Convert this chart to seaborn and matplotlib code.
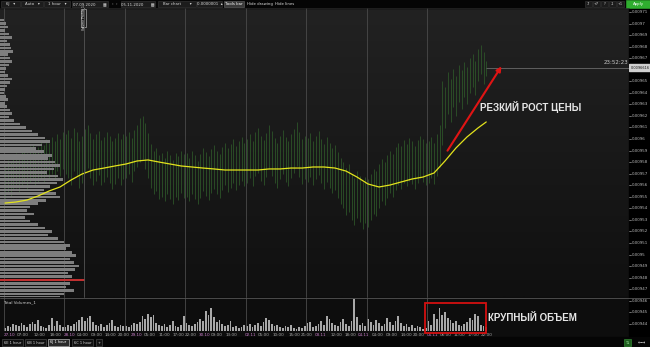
import numpy as np
import pandas as pd
import matplotlib
matplotlib.use("Agg")
import matplotlib.pyplot as plt
import seaborn as sns
from matplotlib.patches import Rectangle, FancyArrowPatch
from matplotlib.colors import LinearSegmentedColormap

# ---------------- data ----------------
bars_per_day = 22
day_names = ["27.10", "28.10", "29.10", "30.10", "02.11", "03.11", "04.11", "05.11"]

high = [
    0.009578, 0.009582, 0.009580, 0.009585, 0.009588, 0.009584, 0.009590, 0.009592, 0.009588, 0.009594, 0.009596,
    0.009590, 0.009593, 0.009598, 0.009595, 0.009600, 0.009597, 0.009602, 0.009598, 0.009604, 0.009600, 0.009606,
    0.009604, 0.009608, 0.009601, 0.009610, 0.009606, 0.009598, 0.009603, 0.009609, 0.009612, 0.009605, 0.009600,
    0.009604, 0.009607, 0.009599, 0.009602, 0.009606, 0.009603, 0.009598, 0.009601, 0.009605, 0.009600, 0.009604,
    0.009603, 0.009606, 0.009601, 0.009608, 0.009612, 0.009618, 0.009620, 0.009614, 0.009605, 0.009596, 0.009590,
    0.009592, 0.009586, 0.009588, 0.009584, 0.009590, 0.009586, 0.009582, 0.009588, 0.009585, 0.009590, 0.009587,
    0.009588, 0.009584, 0.009590, 0.009586, 0.009581, 0.009587, 0.009592, 0.009589, 0.009585, 0.009591, 0.009595,
    0.009590, 0.009587, 0.009593, 0.009597, 0.009592, 0.009596, 0.009600, 0.009594, 0.009598, 0.009602, 0.009597,
    0.009600, 0.009604, 0.009598, 0.009606, 0.009610, 0.009603, 0.009599, 0.009605, 0.009612, 0.009607, 0.009601,
    0.009597, 0.009603, 0.009608, 0.009602, 0.009598, 0.009604, 0.009609, 0.009615, 0.009606, 0.009600, 0.009603,
    0.009601, 0.009605, 0.009598, 0.009603, 0.009607, 0.009600, 0.009596, 0.009602, 0.009597, 0.009592, 0.009595,
    0.009589, 0.009584, 0.009580, 0.009575, 0.009578, 0.009570, 0.009566, 0.009572, 0.009568, 0.009563, 0.009567,
    0.009565, 0.009570, 0.009574, 0.009572, 0.009578, 0.009583, 0.009580, 0.009586, 0.009590, 0.009587, 0.009593,
    0.009597, 0.009594, 0.009599, 0.009596, 0.009601, 0.009598, 0.009594, 0.009599, 0.009603, 0.009600, 0.009597,
    0.009598, 0.009602, 0.009597, 0.009604, 0.009612, 0.009650, 0.009645, 0.009658, 0.009652, 0.009661, 0.009655,
    0.009664, 0.009660, 0.009667, 0.009662, 0.009670, 0.009674, 0.009668, 0.009678, 0.009681, 0.009675, 0.009668,
]
low = [
    0.009548, 0.009552, 0.009550, 0.009556, 0.009558, 0.009554, 0.009560, 0.009562, 0.009557, 0.009563, 0.009565,
    0.009560, 0.009562, 0.009566, 0.009563, 0.009568, 0.009565, 0.009570, 0.009566, 0.009572, 0.009568, 0.009574,
    0.009570, 0.009566, 0.009560, 0.009572, 0.009568, 0.009558, 0.009562, 0.009571, 0.009575, 0.009566, 0.009560,
    0.009564, 0.009569, 0.009560, 0.009563, 0.009567, 0.009562, 0.009557, 0.009561, 0.009566, 0.009560, 0.009565,
    0.009566, 0.009570, 0.009563, 0.009572, 0.009576, 0.009580, 0.009583, 0.009574, 0.009566, 0.009558, 0.009552,
    0.009555, 0.009548, 0.009550, 0.009546, 0.009552, 0.009548, 0.009544, 0.009550, 0.009547, 0.009553, 0.009549,
    0.009550, 0.009546, 0.009552, 0.009548, 0.009544, 0.009549, 0.009555, 0.009551, 0.009547, 0.009553, 0.009557,
    0.009552, 0.009549, 0.009556, 0.009560, 0.009554, 0.009558, 0.009562, 0.009556, 0.009560, 0.009564, 0.009559,
    0.009562, 0.009566, 0.009559, 0.009568, 0.009571, 0.009564, 0.009560, 0.009567, 0.009574, 0.009568, 0.009562,
    0.009558, 0.009565, 0.009570, 0.009563, 0.009559, 0.009566, 0.009571, 0.009577, 0.009567, 0.009561, 0.009565,
    0.009563, 0.009567, 0.009560, 0.009565, 0.009569, 0.009562, 0.009557, 0.009563, 0.009558, 0.009553, 0.009556,
    0.009549, 0.009544, 0.009540, 0.009534, 0.009537, 0.009530, 0.009526, 0.009532, 0.009528, 0.009522, 0.009527,
    0.009524, 0.009530, 0.009535, 0.009533, 0.009540, 0.009546, 0.009543, 0.009549, 0.009553, 0.009550, 0.009556,
    0.009560, 0.009557, 0.009562, 0.009559, 0.009564, 0.009561, 0.009557, 0.009562, 0.009566, 0.009563, 0.009560,
    0.009562, 0.009566, 0.009561, 0.009568, 0.009576, 0.009595, 0.009610, 0.009622, 0.009615, 0.009628, 0.009620,
    0.009632, 0.009626, 0.009636, 0.009630, 0.009640, 0.009645, 0.009638, 0.009650, 0.009656, 0.009648, 0.009655,
]
last_price = 0.0096616
countdown = "23:52:23"

# moving average, sampled every 4th bar (+ last bar)
ma_bar = list(range(0, 173, 4)) + [175]
ma_value = [
    0.0095446, 0.0095455, 0.0095472, 0.0095507, 0.0095550, 0.0095585, 0.0095645, 0.0095697, 0.0095732,
    0.0095749, 0.0095767, 0.0095784, 0.0095810, 0.0095819, 0.0095801, 0.0095784, 0.0095767, 0.0095758,
    0.0095749, 0.0095741, 0.0095732, 0.0095732, 0.0095732, 0.0095732, 0.0095741, 0.0095741, 0.0095749,
    0.0095749, 0.0095758, 0.0095758, 0.0095749, 0.0095723, 0.0095671, 0.0095611, 0.0095585, 0.0095602,
    0.0095628, 0.0095654, 0.0095671, 0.0095706, 0.0095810, 0.0095923, 0.0096018, 0.0096096, 0.0096148,
]

volume = [
    300, 500, 400, 700, 600, 500, 800, 600, 400, 700, 900, 700, 1100, 500, 400, 300, 600, 1300, 500, 1000, 600, 400,
    400, 600, 500, 700, 900, 1100, 1400, 1000, 1300, 1500, 900, 600, 500, 700, 400, 600, 800, 1100, 500, 400, 600, 500,
    500, 400, 600, 800, 700, 900, 1500, 1200, 1700, 1400, 1600, 800, 600, 500, 700, 400, 600, 1000, 500, 400, 600, 1500,
    800, 600, 500, 700, 900, 1200, 1000, 2000, 1600, 2300, 1400, 900, 1100, 700, 500, 600, 1000, 400, 500, 300, 400, 600,
    500, 700, 400, 600, 800, 500, 900, 1300, 1100, 700, 500, 600, 400, 300, 500, 400, 600, 300, 200, 400, 300, 500,
    800, 900, 400, 500, 700, 1000, 600, 1500, 1200, 800, 600, 500, 900, 1200, 700, 500, 1000, 3200, 1400, 600, 800, 500,
    1200, 900, 600, 1100, 800, 500, 700, 1300, 900, 600, 1000, 1500, 800, 500, 700, 400, 600, 300, 500, 400, 200, 300,
    1000, 600, 1700, 1200, 2300, 1600, 1900, 1300, 1100, 800, 1000, 600, 500, 700, 900, 1300, 1100, 1700, 1500, 600, 500, 400,
]

# volume profile (price level rows from top, step 0.000003)
profile_top = 0.009703
profile_step = 0.000003
profile_volume = [
    4, 6, 8, 5, 9, 12, 7, 10, 11, 13, 8, 10, 12, 9, 6, 5, 8, 12, 10, 7, 5, 4, 6, 8, 5, 7, 10, 12, 9, 14,
    20, 26, 32, 38, 45, 50, 42, 36, 44, 52, 48, 55, 60, 54, 47, 58, 63, 57, 50, 44, 56, 60, 46, 38, 30, 27,
    34, 25, 30, 38, 45, 52, 48, 58, 64, 70, 66, 72, 76, 70, 74, 79, 75, 68, 72, 85, 70, 66, 74, 64, 60,
]

price_ticks = [0.00971, 0.00970, 0.00969, 0.00968, 0.00967, 0.00966, 0.00965, 0.00964, 0.00963, 0.00962,
               0.00961, 0.00960, 0.00959, 0.00958, 0.00957, 0.00956, 0.00955, 0.00954, 0.00953, 0.00952,
               0.00951, 0.00950, 0.00949, 0.00948, 0.00947, 0.00946, 0.00945, 0.00944]

time_tick_pos = [1.5, 6.5, 12.7, 18.5, 23.6, 28.4, 33.5, 38.5, 43.3, 48.0, 52.7, 57.8, 62.9, 67.6, 72.4, 77.1,
                 82.2, 89.1, 94.2, 99.6, 105.1, 109.8, 114.9, 120.4, 125.5, 130.5, 135.6, 140.7, 145.8, 150.5,
                 155.6, 160.4, 165.1, 170.2, 175.3]
time_tick_lab = ["27.10", "07:00", "12:00", "18:00", "28.10", "04:00", "09:00", "14:00", "20:00", "29.10",
                 "05:00", "11:00", "17:00", "22:00", "30.10", "09:00", "13:00", "02.11", "05:00", "10:00",
                 "15:00", "21:00", "03.11", "12:00", "18:00", "04.11", "04:00", "09:00", "14:00", "20:00",
                 "05.11", "06:00", "11:00", "17:00", "22:00"]

# ---------------- figure ----------------
sns.set_theme(style="dark")
plt.rcParams['font.family'] = ['DejaVu Sans']

W, H = 650, 347
fig = plt.figure(figsize=(W / 100, H / 100), dpi=100)
fig.patch.set_facecolor('#000000')


def px_axes(x0, y0, x1, y1, z=0):
    a = fig.add_axes([x0 / W, 1 - y1 / H, (x1 - x0) / W, (y1 - y0) / H], zorder=z)
    a.set_facecolor('none')
    for s in a.spines.values():
        s.set_visible(False)
    a.grid(False)
    return a


def price_at(y):
    return 0.00971 - (y - 12) / 11.55 * 1e-5


XL = (-5 / 2.75, (629 - 5) / 2.75)
YL = (price_at(297), price_at(8))

# background layer
bg = px_axes(0, 0, W, H, z=-5)
grad_cmap = LinearSegmentedColormap.from_list('g', ['#222222', '#101010'])
bg.imshow(np.linspace(0, 1, 200).reshape(-1, 1), extent=(0, 629, 297, 8), cmap=grad_cmap,
          aspect='auto', origin='upper')
bg.add_patch(Rectangle((0, 297), 629, 40, color='#0d0d0d'))
bg.add_patch(Rectangle((0, 0), W, 8, color='#050505'))
bg.add_patch(Rectangle((629, 8), 21, 330, color='#000000'))
bg.add_patch(Rectangle((0, 337), W, 10, color='#050505'))
bg.set_xlim(0, W)
bg.set_ylim(H, 0)
bg.axis('off')

n = len(high)
bar_idx = np.arange(n)
day_bounds = [d * bars_per_day - 0.5 for d in range(len(day_names))]

# main price pane: candles
ax = px_axes(0, 8, 629, 297, z=1)
ax.vlines(bar_idx, low, high, color='#2f5a2a', linewidth=0.6, alpha=0.9)
for b in day_bounds:
    ax.axvline(b, color='#4a4a4a', linewidth=0.6)
ax.set_xlim(*XL)
ax.set_ylim(*YL)
ax.axis('off')

# volume profile
axp = px_axes(0, 8, 629, 297, z=2)
prof_price = [profile_top - k * profile_step for k in range(len(profile_volume))]
poc = int(np.argmax(profile_volume))
prof_colors = ['#c03030' if k == poc else '#7e7e7e' for k in range(len(profile_volume))]
axp.barh(prof_price, profile_volume, height=profile_step * 0.75, color=prof_colors, linewidth=0)
axp.set_xlim(0, 629)
axp.set_ylim(*YL)
axp.axis('off')

# moving average + current price line
axm = px_axes(0, 8, 629, 297, z=3)
sns.lineplot(x=ma_bar, y=ma_value, ax=axm, color='#e3e31c', linewidth=0.9, sort=False)
axm.hlines(last_price, n - 1, XL[1], color='#6a6a6a', linewidth=0.6)
axm.set_xlim(*XL)
axm.set_ylim(*YL)
axm.axis('off')

# volume pane
axv = px_axes(0, 297, 629, 331, z=1)
sns.barplot(x=bar_idx, y=volume, native_scale=True, ax=axv, color='#a8a8a8', width=0.55,
            errorbar=None, saturation=1, linewidth=0)
for b in day_bounds:
    axv.axvline(b, color='#4a4a4a', linewidth=0.6)
axv.set_xlim(*XL)
axv.set_ylim(0, 3400)
axv.set_xlabel('')
axv.set_ylabel('')
axv.set_yticks([])
axv.set_xticks(time_tick_pos)
axv.set_xticklabels(time_tick_lab, fontsize=3.0)
for t in axv.get_xticklabels():
    t.set_color('#c77cc7' if '.' in t.get_text() else '#a8a8a8')
axv.tick_params(axis='x', length=0, pad=1.2)

# right price strip
axr = px_axes(629, 8, 650, 338, z=1)
axr.set_xlim(0, 1)
axr.set_ylim(price_at(338), price_at(8))
for p in price_ticks:
    if abs(p - last_price) < 0.000005:
        continue
    axr.plot([0, 0.1], [p, p], color='#9a9a9a', lw=0.5)
    axr.text(0.14, p, '{:g}'.format(p), fontsize=2.9, color='#b8b8b8', va='center', ha='left')
axr.add_patch(Rectangle((0.02, last_price - 0.0000031), 0.98, 0.0000062, color='#cfcfcf'))
axr.text(0.06, last_price, '{:.7f}'.format(last_price), fontsize=2.5, color='#111111', va='center', ha='left')
axr.axis('off')

# foreground annotations (pixel coordinates)
fg = px_axes(0, 0, W, H, z=10)
fg.set_xlim(0, W)
fg.set_ylim(H, 0)
fg.axis('off')

fg.plot([0, W], [297.5, 297.5], color='#555555', lw=0.6)
fg.plot([0, 629], [8.3, 8.3], color='#2a2a2a', lw=0.5)
fg.plot([84, 84], [8, 297], color='#555555', lw=0.6)
fg.add_patch(Rectangle((80.5, 9), 5.5, 18, facecolor='#1a1a1a', edgecolor='#d0d0d0', lw=0.4))
fg.text(83.3, 18, 'Volume Profile_1', rotation=90, fontsize=2.2, color='#eeeeee', ha='center', va='center')

fg.text(616, 62.5, countdown, fontsize=4, color='#c8c8c8', ha='center', va='center')
fg.text(3, 302, 'Total Volumes_1', fontsize=3, color='#cfcfcf', ha='left', va='center')

arrow = FancyArrowPatch((446, 153), (503, 64), arrowstyle='-|>', mutation_scale=7,
                        color='#e01414', lw=1.5)
fg.add_patch(arrow)
fg.text(480, 107, 'РЕЗКИЙ РОСТ ЦЕНЫ', fontsize=7, fontweight='bold', color='#e6e6e6',
        family=['Liberation Sans', 'DejaVu Sans'], ha='left', va='center')
fg.add_patch(Rectangle((425, 303), 61, 29.5, fill=False, edgecolor='#d41010', lw=1.3))
fg.text(488, 318, 'КРУПНЫЙ ОБЪЕМ', fontsize=7, fontweight='bold', color='#e6e6e6',
        family=['Liberation Sans', 'DejaVu Sans'], ha='left', va='center')


def tool_box(x0, x1, y0, y1, label, face='#1c1c1c', edge='#3a3a3a', tc='#d8d8d8', fs=2.8):
    fg.add_patch(Rectangle((x0, y0), x1 - x0, y1 - y0, facecolor=face, edgecolor=edge, lw=0.4))
    fg.text((x0 + x1) / 2, (y0 + y1) / 2, label, fontsize=fs, color=tc, ha='center', va='center')


# top toolbar
tool_box(1, 20, 1, 7, '6J   ▾')
tool_box(21, 43, 1, 7, 'Auto   ▾')
tool_box(44, 70, 1, 7, '1 hour   ▾')
tool_box(72, 108, 1, 7, '07.09.2020      ▦')
fg.text(115, 4, '‹  ›', fontsize=2.8, color='#cccccc', ha='center', va='center')
tool_box(121, 155, 1, 7, '05.11.2020      ▦')
tool_box(158, 196, 1, 7, 'Bar chart       ▾')
tool_box(197, 222, 1, 7, '0.0000001  ▴')
tool_box(224, 244, 1, 7, 'Tools bar', face='#3a3a3a', edge='#666666', tc='#ffffff')
fg.text(260, 4, 'Hide drawing', fontsize=2.8, color='#dddddd', ha='center', va='center')
fg.text(285, 4, 'Hide lines', fontsize=2.8, color='#dddddd', ha='center', va='center')
for k, lab in enumerate(['-7', '+7', '?', '-1', '+1']):
    tool_box(585 + k * 8, 592 + k * 8, 1, 7, lab, fs=2.5)
tool_box(626, 650, 0, 8, 'Apply', face='#2fae2f', edge='#2fae2f', tc='#ffffff', fs=2.8)

# bottom tab bar
for x0, lab in [(2, '6E 1 hour'), (25, '6B 1 hour'), (48, '6J 1 hour'), (72, '6C 1 hour')]:
    if lab.startswith('6J'):
        tool_box(x0, x0 + 21, 339, 346, lab, face='#2a2a2a', edge='#dddddd', tc='#ffffff', fs=2.6)
    else:
        tool_box(x0, x0 + 21, 339, 346, lab, face='#111111', edge='#555555', fs=2.6)
tool_box(96, 102, 339, 346, '+', face='#111111', edge='#555555', fs=2.6)
tool_box(624, 631, 339, 346, '⇅', face='#1f5f1f', edge='#3a9a3a', tc='#9fe09f', fs=3)
fg.text(642, 342.5, '←→', fontsize=3.5, color='#cccccc', ha='center', va='center')

fig.savefig('out.png', dpi=100, facecolor=fig.get_facecolor())
